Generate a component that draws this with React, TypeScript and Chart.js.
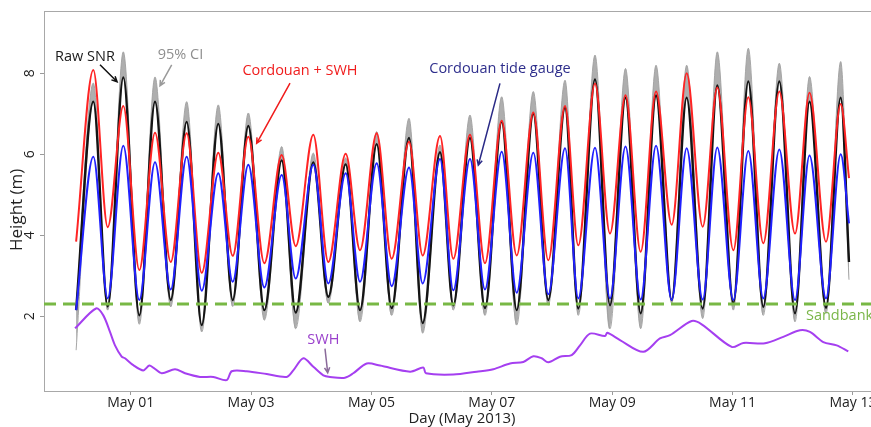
import { useEffect, useRef } from 'react';
import { Chart, registerables } from 'chart.js';

Chart.register(...registerables);

// ---- axes ----
const xMin = -1.4405;
const xMax = 12.449;
const yMin = 0.152;
const yMax = 9.539;
const xTickValues = [0, 2, 4, 6, 8, 10, 12];
const xTickLabels = ['May 01', 'May 03', 'May 05', 'May 07', 'May 09', 'May 11', 'May 13'];
const yTickValues = [2, 4, 6, 8];

// ---- tide extrema (days from May 01 00:00) ----
const lowTimes = [-0.907, -0.382, 0.143, 0.665, 1.18, 1.695, 2.22, 2.741, 3.283, 3.81, 4.336, 4.851, 5.36, 5.886, 6.413, 6.938, 7.436, 7.963, 8.473, 8.988, 9.503, 10.012, 10.51, 11.037, 11.552];
const highTimes = [-0.621, -0.123, 0.404, 0.93, 1.455, 1.954, 2.509, 3.034, 3.572, 4.087, 4.624, 5.139, 5.637, 6.164, 6.689, 7.216, 7.714, 8.221, 8.728, 9.237, 9.746, 10.261, 10.776, 11.278, 11.796];
const endTime = 11.934;

// Cordouan + SWH (red)
const lowRed = [3.84, 4.2, 3.14, 3.34, 3.07, 3.49, 3.31, 3.73, 3.34, 3.63, 3.42, 3.5, 3.42, 3.31, 3.5, 3.38, 3.75, 4.04, 3.59, 4.26, 4.21, 3.63, 3.8, 4.04, 3.84];
const highRed = [8.08, 7.19, 6.53, 6.52, 6.04, 6.43, 5.98, 6.48, 6.01, 6.52, 6.31, 6.45, 6.48, 6.83, 7.03, 7.19, 7.75, 7.46, 7.55, 8.0, 7.65, 7.41, 7.55, 7.52, 7.24];
const endRed = 5.41;

// Cordouan tide gauge (blue)
const lowBlue = [2.15, 2.44, 2.4, 2.66, 2.63, 2.85, 2.71, 2.93, 2.81, 2.85, 2.74, 2.81, 2.64, 2.66, 2.58, 2.54, 2.44, 2.44, 2.41, 2.4, 2.41, 2.4, 2.44, 2.4, 2.44];
const highBlue = [5.94, 6.21, 5.8, 5.94, 5.53, 5.74, 5.49, 5.74, 5.53, 5.78, 5.67, 5.88, 5.88, 6.06, 6.04, 6.15, 6.16, 6.19, 6.21, 6.15, 6.17, 6.08, 6.12, 5.97, 6.0];
const endBlue = 4.29;

// Raw SNR (black)
const lowBlack = [2.15, 2.24, 2.02, 2.4, 1.78, 2.4, 2.15, 2.09, 2.48, 2.15, 2.2, 1.83, 2.27, 2.2, 2.15, 2.4, 2.19, 2.27, 2.07, 2.4, 2.19, 2.33, 2.23, 2.07, 2.21];
const highBlack = [7.3, 7.9, 7.3, 6.8, 6.75, 6.7, 5.85, 5.8, 5.75, 6.25, 6.4, 6.05, 6.4, 6.8, 7.0, 7.15, 7.85, 7.4, 7.45, 7.4, 7.7, 7.8, 7.8, 7.3, 7.4];
const endBlack = 3.34;

// 95% CI extremes
const lowCi = [1.16, 2.15, 1.8, 2.23, 1.61, 2.24, 1.9, 1.69, 2.32, 1.86, 2.02, 1.58, 2.15, 2.02, 1.78, 2.27, 2.02, 1.69, 1.69, 2.32, 1.94, 2.15, 2.02, 1.86, 2.07];
const highCi = [7.76, 8.53, 7.91, 7.3, 7.22, 7.02, 6.19, 6.03, 5.91, 6.56, 6.89, 6.23, 6.97, 7.42, 7.55, 7.83, 8.45, 8.12, 8.2, 8.2, 8.53, 8.62, 8.25, 7.92, 8.29];
const endCiLow = 2.9;

// SWH (purple)
const swhTimes = [-0.925, -0.576, -0.455, -0.344, -0.261, -0.15, -0.095, 0.043, 0.209, 0.309, 0.375, 0.515, 0.736, 0.902, 1.151, 1.372, 1.595, 1.678, 1.927, 2.26, 2.592, 2.701, 2.868, 3.034, 3.2, 3.311, 3.56, 3.698, 3.921, 4.142, 4.642, 4.861, 4.906, 5.36, 5.748, 6.024, 6.302, 6.523, 6.689, 6.828, 6.938, 7.132, 7.327, 7.465, 7.631, 7.88, 7.918, 8.129, 8.516, 8.793, 8.96, 9.32, 9.486, 9.985, 10.178, 10.538, 10.842, 11.119, 11.285, 11.507, 11.729, 11.922];
const swhValues = [1.7, 2.19, 2.02, 1.61, 1.28, 1.0, 0.96, 0.79, 0.66, 0.78, 0.73, 0.59, 0.69, 0.59, 0.5, 0.5, 0.42, 0.64, 0.64, 0.57, 0.5, 0.66, 0.96, 0.75, 0.54, 0.5, 0.48, 0.59, 0.83, 0.78, 0.63, 0.73, 0.59, 0.56, 0.63, 0.69, 0.83, 0.87, 1.01, 0.96, 0.86, 1.0, 1.04, 1.28, 1.57, 1.51, 1.59, 1.41, 1.12, 1.45, 1.53, 1.88, 1.8, 1.24, 1.34, 1.33, 1.49, 1.65, 1.61, 1.36, 1.28, 1.13];

const sandbankLevel = 2.3;

// ---- annotations (data coordinates) ----
const annotations = [
  { text: 'Raw SNR', x: -0.759, y: 8.41, color: '#1a1a1a', align: 'center', arrow: [-0.51, 8.21, -0.226, 7.79], arrowColor: '#111111' },
  { text: '95% CI', x: 0.827, y: 8.45, color: '#8e8e8e', align: 'center', arrow: [0.681, 8.21, 0.487, 7.69], arrowColor: '#9a9a9a' },
  { text: 'Cordouan + SWH', x: 2.813, y: 8.06, color: '#f01c1c', align: 'center', arrow: [2.647, 7.76, 2.093, 6.27], arrowColor: '#f01c1c' },
  { text: 'Cordouan tide gauge', x: 6.135, y: 8.11, color: '#2e2e8c', align: 'center', arrow: [6.135, 7.75, 5.775, 5.73], arrowColor: '#2a2a86' },
  { text: 'SWH', x: 3.2, y: 1.42, color: '#9a40cc', align: 'center', arrow: [3.228, 1.2, 3.273, 0.6], arrowColor: '#8a6a9a' },
  { text: 'Sandbank', x: 11.219, y: 2.01, color: '#7ab648', align: 'left', arrow: null, arrowColor: '' },
];

function mergeTide(lv: number[], hv: number[], ev: number) {
  const pts: { x: number; y: number }[] = [];
  lowTimes.forEach((t, i) => pts.push({ x: t, y: lv[i] }));
  highTimes.forEach((t, i) => pts.push({ x: t, y: hv[i] }));
  pts.push({ x: endTime, y: ev });
  return pts.sort((a, b) => a.x - b.x);
}

const annotationPlugin = {
  id: 'annotText',
  afterDatasetsDraw(chart: any) {
    const { ctx, chartArea, scales } = chart;
    const xs = scales.x;
    const ys = scales.y;
    ctx.save();
    ctx.strokeStyle = '#a8a8a8';
    ctx.lineWidth = 1;
    ctx.beginPath();
    ctx.moveTo(chartArea.left, Math.round(chartArea.top) + 0.5);
    ctx.lineTo(chartArea.right, Math.round(chartArea.top) + 0.5);
    ctx.stroke();
    for (const a of annotations) {
      ctx.font = '14.5px "Open Sans", sans-serif';
      ctx.fillStyle = a.color;
      ctx.textAlign = a.align;
      ctx.textBaseline = 'middle';
      ctx.fillText(a.text, xs.getPixelForValue(a.x), ys.getPixelForValue(a.y));
      if (a.arrow) {
        const x1 = xs.getPixelForValue(a.arrow[0]);
        const y1 = ys.getPixelForValue(a.arrow[1]);
        const x2 = xs.getPixelForValue(a.arrow[2]);
        const y2 = ys.getPixelForValue(a.arrow[3]);
        ctx.strokeStyle = a.arrowColor;
        ctx.lineWidth = 1.5;
        ctx.beginPath();
        ctx.moveTo(x1, y1);
        ctx.lineTo(x2, y2);
        const ang = Math.atan2(y2 - y1, x2 - x1);
        const h = 6;
        ctx.moveTo(x2 - h * Math.cos(ang - 0.45), y2 - h * Math.sin(ang - 0.45));
        ctx.lineTo(x2, y2);
        ctx.lineTo(x2 - h * Math.cos(ang + 0.45), y2 - h * Math.sin(ang + 0.45));
        ctx.stroke();
      }
    }
    ctx.restore();
  },
};

export default function App() {
  const ref = useRef<HTMLCanvasElement | null>(null);

  useEffect(() => {
    if (!ref.current) return;
    Chart.defaults.font.family = '"Open Sans", sans-serif';
    const tideLine = (color: string, width: number) => ({
      borderColor: color,
      borderWidth: width,
      pointRadius: 0,
      cubicInterpolationMode: 'monotone' as const,
      fill: false,
    });
    const chart = new Chart(ref.current, {
      type: 'line',
      data: {
        datasets: [
          { label: 'Cordouan tide gauge', data: mergeTide(lowBlue, highBlue, endBlue), ...tideLine('#2020ff', 2), order: 1 },
          { label: 'Cordouan + SWH', data: mergeTide(lowRed, highRed, endRed), ...tideLine('#ff2424', 2), order: 2 },
          {
            label: 'Sandbank',
            data: [{ x: xMin, y: sandbankLevel }, { x: xMax, y: sandbankLevel }],
            borderColor: '#78b845',
            borderWidth: 3,
            borderDash: [12, 7],
            pointRadius: 0,
            fill: false,
            order: 3,
          },
          { label: 'Raw SNR', data: mergeTide(lowBlack, highBlack, endBlack), ...tideLine('#141414', 2.4), order: 4 },
          {
            label: 'SWH',
            data: swhTimes.map((t, i) => ({ x: t, y: swhValues[i] })),
            borderColor: '#a53ff0',
            borderWidth: 2,
            pointRadius: 0,
            tension: 0.3,
            fill: false,
            order: 5,
          },
          {
            label: 'CI upper',
            data: mergeTide(lowBlack, highCi, endBlack),
            borderColor: 'rgba(160,160,160,0.9)',
            borderWidth: 1,
            pointRadius: 0,
            cubicInterpolationMode: 'monotone',
            backgroundColor: 'rgba(160,160,160,0.85)',
            fill: '+1',
            order: 6,
          },
          {
            label: 'CI lower',
            data: mergeTide(lowCi, highBlack, endCiLow),
            borderColor: 'rgba(160,160,160,0.9)',
            borderWidth: 1,
            pointRadius: 0,
            cubicInterpolationMode: 'monotone',
            fill: false,
            order: 7,
          },
        ],
      },
      options: {
        animation: false,
        responsive: false,
        devicePixelRatio: 1,
        parsing: false as any,
        normalized: true,
        layout: { padding: { left: 0, top: 11, right: 0, bottom: 0 } },
        plugins: { legend: { display: false }, tooltip: { enabled: false } },
        scales: {
          x: {
            type: 'linear',
            min: xMin,
            max: xMax,
            afterBuildTicks: (s: any) => {
              s.ticks = xTickValues.map((v) => ({ value: v }));
            },
            afterFit: (s: any) => {
              s.height = 36;
              s.paddingLeft = 0;
              s.paddingRight = 0;
            },
            grid: { display: true, drawOnChartArea: false, drawTicks: true, tickLength: 4, color: '#9a9a9a' },
            border: { display: true, color: '#a8a8a8', width: 1 },
            ticks: {
              autoSkip: false,
              maxRotation: 0,
              minRotation: 0,
              padding: 0,
              color: '#222222',
              font: { size: 14 },
              callback: (v: any) => xTickLabels[xTickValues.indexOf(Number(v))] ?? '',
            },
            title: { display: true, text: 'Day (May 2013)', color: '#222222', font: { size: 15 }, padding: { top: 0, bottom: -1 } },
          },
          y: {
            type: 'linear',
            min: yMin,
            max: yMax,
            afterBuildTicks: (s: any) => {
              s.ticks = yTickValues.map((v) => ({ value: v }));
            },
            afterFit: (s: any) => {
              s.width = 44;
              s.paddingTop = 0;
              s.paddingBottom = 0;
            },
            grid: { display: true, drawOnChartArea: false, drawTicks: true, tickLength: 4, color: '#9a9a9a' },
            border: { display: true, color: '#a8a8a8', width: 1 },
            ticks: {
              autoSkip: false,
              minRotation: 90,
              maxRotation: 90,
              crossAlign: 'center',
              padding: 6,
              color: '#222222',
              font: { size: 14 },
              callback: (v: any) => String(v),
            },
            title: {
              display: true,
              text: 'Height (m)\u00a0\u00a0\u00a0\u00a0',
              color: '#222222',
              font: { size: 17 },
              padding: { top: 7, bottom: 0 },
            },
          },
        },
      },
      plugins: [annotationPlugin],
    } as any);
    return () => chart.destroy();
  }, []);

  return (
    <div style={{ position: 'fixed', left: 0, top: 0, width: 871, height: 427, overflow: 'hidden', background: '#ffffff' }}>
      <canvas ref={ref} width={880} height={427} style={{ display: 'block', width: 880, height: 427 }} />
    </div>
  );
}
